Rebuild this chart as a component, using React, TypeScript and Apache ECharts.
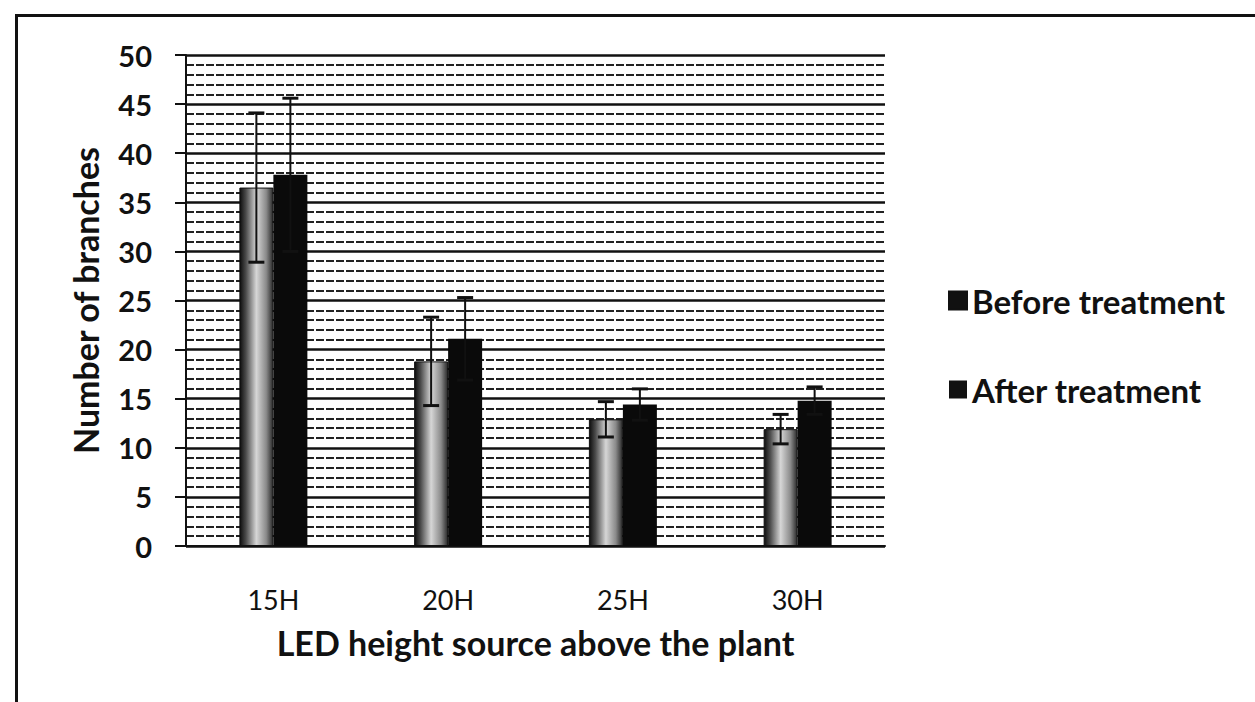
import React, { useEffect, useRef } from "react";
import * as echarts from "echarts";

const categories = ["15H", "20H", "25H", "30H"];
const beforeValues = [36.5, 18.8, 12.9, 11.9];
const afterValues = [37.8, 21.1, 14.4, 14.8];
const beforeErrors = [7.6, 4.5, 1.8, 1.5];
const afterErrors = [7.8, 4.2, 1.6, 1.4];
const seriesNames = ["Before treatment", "After treatment"];
const yTicks = { min: 0, max: 50, interval: 5 };

const FONT = "Lato, 'Open Sans', sans-serif";

function errorSeries(values: number[], errors: number[], offset: number) {
  return {
    type: "custom",
    z: 10,
    silent: true,
    data: values.map((v, i) => [i, v - errors[i], v + errors[i]]),
    encode: { x: 0, y: [1, 2] },
    renderItem: (params: any, api: any) => {
      const idx = api.value(0);
      const lo = api.coord([idx, api.value(1)]);
      const hi = api.coord([idx, api.value(2)]);
      const x = lo[0] + offset;
      const cap = 8;
      const style = { stroke: "#111", lineWidth: 2 };
      return {
        type: "group",
        children: [
          { type: "line", shape: { x1: x, y1: lo[1], x2: x, y2: hi[1] }, style },
          { type: "line", shape: { x1: x - cap, y1: hi[1], x2: x + cap, y2: hi[1] }, style: { stroke: "#111", lineWidth: 3 } },
          { type: "line", shape: { x1: x - cap, y1: lo[1], x2: x + cap, y2: lo[1] }, style: { stroke: "#111", lineWidth: 3 } },
        ],
      };
    },
  };
}

export default function App() {
  const ref = useRef<HTMLDivElement>(null);
  useEffect(() => {
    if (!ref.current) return;
    const chart = echarts.init(ref.current, undefined, { renderer: "svg" });
    const beforeFill = new echarts.graphic.LinearGradient(0, 0, 1, 0, [
      { offset: 0, color: "#0d0d0d" },
      { offset: 0.18, color: "#4a4a4a" },
      { offset: 0.5, color: "#d6d6d6" },
      { offset: 0.8, color: "#8a8a8a" },
      { offset: 1, color: "#2a2a2a" },
    ]);
    chart.setOption({
      animation: false,
      backgroundColor: "#ffffff",
      graphic: [
        {
          type: "rect",
          left: 14,
          top: 13,
          shape: { width: 1400, height: 800 },
          style: { fill: "none", stroke: "#111", lineWidth: 3 },
          silent: true,
        },
      ],
      grid: { left: 186, right: 370, top: 55, bottom: 156, containLabel: false },
      legend: {
        orient: "vertical",
        left: 943,
        top: 279,
        itemWidth: 18,
        itemHeight: 18,
        itemGap: 56,
        icon: "rect",
        textStyle: { fontFamily: FONT, fontWeight: "bold", fontSize: 33, color: "#111" },
        data: [
          { name: seriesNames[0], itemStyle: { color: "#111" } },
          { name: seriesNames[1], itemStyle: { color: "#111" } },
        ],
      },
      xAxis: {
        type: "category",
        data: categories,
        axisLine: { show: true, lineStyle: { color: "#111", width: 2 } },
        axisTick: { show: false },
        axisLabel: { fontFamily: FONT, fontSize: 27, color: "#111", margin: 40 },
        name: "LED height source above the plant",
        nameLocation: "middle",
        nameGap: 79,
        nameTextStyle: { fontFamily: FONT, fontWeight: "bold", fontSize: 34, color: "#111" },
      },
      yAxis: {
        type: "value",
        min: yTicks.min,
        max: yTicks.max,
        interval: yTicks.interval,
        axisLine: { show: true, lineStyle: { color: "#111", width: 2 } },
        axisTick: { show: true, length: 11, lineStyle: { color: "#111", width: 2 } },
        axisLabel: { fontFamily: FONT, fontWeight: "bold", fontSize: 29, color: "#111", margin: 34 },
        splitLine: { show: true, lineStyle: { color: "#111", width: 2.5 } },
        minorTick: { show: false, splitNumber: 5 },
        minorSplitLine: { show: true, lineStyle: { color: "#222", width: 1.8, type: [8, 2] } },
        name: "Number of branches",
        nameLocation: "middle",
        nameRotate: 90,
        nameGap: 84,
        nameTextStyle: { fontFamily: FONT, fontWeight: "bold", fontSize: 34, color: "#111" },
      },
      series: [
        {
          name: seriesNames[0],
          type: "bar",
          data: beforeValues,
          barWidth: 34,
          barGap: "0%",
          itemStyle: { color: beforeFill, borderColor: "#111", borderWidth: 1 },
          z: 3,
        },
        {
          name: seriesNames[1],
          type: "bar",
          data: afterValues,
          barWidth: 34,
          barGap: "0%",
          itemStyle: { color: "#0a0a0a" },
          z: 3,
        },
        errorSeries(beforeValues, beforeErrors, -17),
        errorSeries(afterValues, afterErrors, 17),
      ],
    });
    return () => chart.dispose();
  }, []);
  return (
    <div
      ref={ref}
      style={{ position: "fixed", left: 0, top: 0, width: 1255, height: 702, background: "#fff" }}
    />
  );
}
